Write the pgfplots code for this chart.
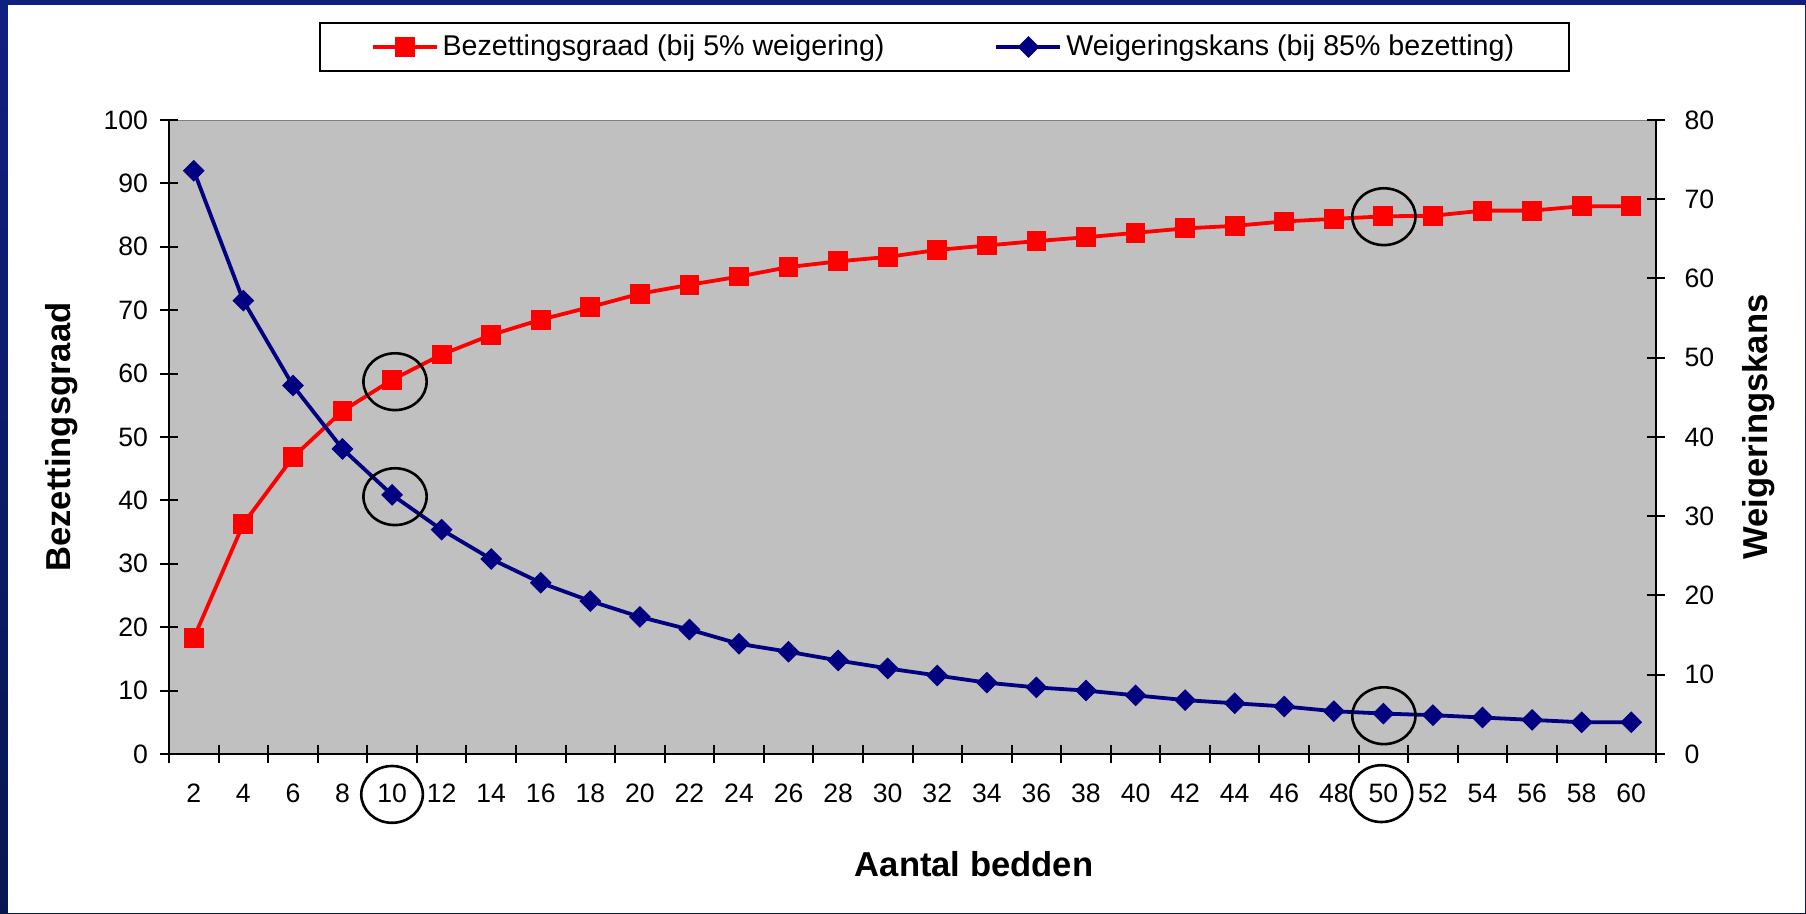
\documentclass[border=0pt]{standalone}
\usepackage{fontspec}
\setmainfont{Liberation Sans}
\usepackage{pgfplots}
\pgfplotsset{compat=1.18}
\definecolor{frameA}{HTML}{10207F}
\definecolor{frameB}{HTML}{081650}
\definecolor{plotgray}{HTML}{C0C0C0}
\definecolor{navyc}{HTML}{000080}
\definecolor{redc}{HTML}{FF0000}

\pgfplotstableread{
x red blue
1 18.3 73.6
2 36.3 57.2
3 46.8 46.5
4 54.1 38.5
5 59.0 32.7
6 63.0 28.3
7 66.1 24.6
8 68.5 21.6
9 70.5 19.3
10 72.6 17.3
11 74.0 15.7
12 75.3 13.9
13 76.8 12.9
14 77.7 11.8
15 78.4 10.8
16 79.5 9.9
17 80.2 9.0
18 80.9 8.4
19 81.5 8.0
20 82.2 7.4
21 82.9 6.8
22 83.3 6.4
23 84.0 6.0
24 84.4 5.4
25 84.8 5.1
26 84.9 4.9
27 85.7 4.6
28 85.7 4.3
29 86.4 4.0
30 86.4 4.0
}\datatable

\begin{document}
\begin{tikzpicture}
\useasboundingbox (0,0) rectangle (903pt,457pt);
\shade[top color=frameA, bottom color=frameB] (0,0) rectangle (903pt,457pt);
\fill[white] (3.8pt,0.6pt) rectangle (902.4pt,454.5pt);
\pgfplotsset{
  myaxis/.style={
    width=743.5pt, height=317pt, scale only axis,
    at={(84.5pt,80pt)}, anchor=south west,
    xmin=0.5, xmax=30.5,
    tick align=center,
    major tick length=9pt, minor tick length=9pt,
    every tick/.style={black, line width=1pt},
    axis line style={black, line width=1pt, -},
    ticklabel style={font=\fontsize{13.3}{16}\selectfont},
    /pgf/number format/assume math mode=true,
    label style={font=\fontsize{17.3}{20}\selectfont\bfseries},
    legend image code/.code={\draw[mark repeat=2,mark phase=2,##1] plot coordinates {(0pt,0pt) (16pt,0pt) (32pt,0pt)};},
  },
  redstyle/.style={color=redc, line width=1.9pt, mark=square*, mark size=4.7pt, mark options={solid, line width=0.5pt}},
  bluestyle/.style={color=navyc, line width=1.9pt, mark=square*, mark size=3.6pt, mark options={solid, rotate=45, line width=0.5pt}},
}
\begin{axis}[myaxis,
  axis background/.style={fill=plotgray, draw=gray},
  axis x line*=bottom, axis y line*=left,
  ymin=0, ymax=100, ytick={0,10,...,100},
  xtick={1,...,30},
  xticklabels={2,4,6,8,10,12,14,16,18,20,22,24,26,28,30,32,34,36,38,40,42,44,46,48,50,52,54,56,58,60},
  major x tick style={draw=none},
  minor xtick={0.5,1.5,...,30.5},
  xticklabel style={yshift=-7pt},
  yticklabel style={xshift=-2.5pt},
  xlabel={Aantal bedden},
  ylabel={Bezettingsgraad},
  xlabel style={at={(axis description cs:0.5414,-0.1735)}, anchor=center},
  ylabel style={at={(axis description cs:-0.0723,0.5)}, anchor=center},
]
\addplot[redstyle] table[x=x, y=red] {\datatable};
\end{axis}
\begin{axis}[myaxis,
  axis x line=none, axis y line*=right,
  ymin=0, ymax=80, ytick={0,10,...,80},
  yticklabel style={xshift=6.3pt},
  ylabel={Weigeringskans},
  ylabel style={at={(axis description cs:1.0689,0.5158)}, anchor=center},
  clip=false,
  legend columns=2,
  legend cell align=left,
  legend style={at={(axis description cs:0.5215,1.154)}, anchor=north,
    draw=black, line width=0.8pt, font=\fontsize{14.3}{17}\selectfont,
    /tikz/every even column/.append style={column sep=53pt},
    inner xsep=25.5pt, inner ysep=4pt},
]
\addlegendimage{redstyle}
\addlegendentry{Bezettingsgraad (bij 5\% weigering)}
\addplot[bluestyle] table[x=x, y=blue] {\datatable};
\addlegendentry{Weigeringskans (bij 85\% bezetting)}
\draw[black, line width=1.3pt] (axis cs:5.06,46.98) ellipse [x radius=15.8pt, y radius=14.2pt];
\draw[black, line width=1.3pt] (axis cs:5.06,32.47) ellipse [x radius=15.8pt, y radius=14.2pt];
\draw[black, line width=1.3pt] (axis cs:25.01,67.8) ellipse [x radius=15.8pt, y radius=14.2pt];
\draw[black, line width=1.3pt] (axis cs:25.01,4.83) ellipse [x radius=15.8pt, y radius=14.2pt];
\draw[black, line width=1.3pt] (axis cs:5.0,-5.1) ellipse [x radius=15.4pt, y radius=14.2pt];
\draw[black, line width=1.3pt] (axis cs:24.96,-5.0) ellipse [x radius=15.4pt, y radius=14.2pt];
\end{axis}
\end{tikzpicture}
\end{document}
